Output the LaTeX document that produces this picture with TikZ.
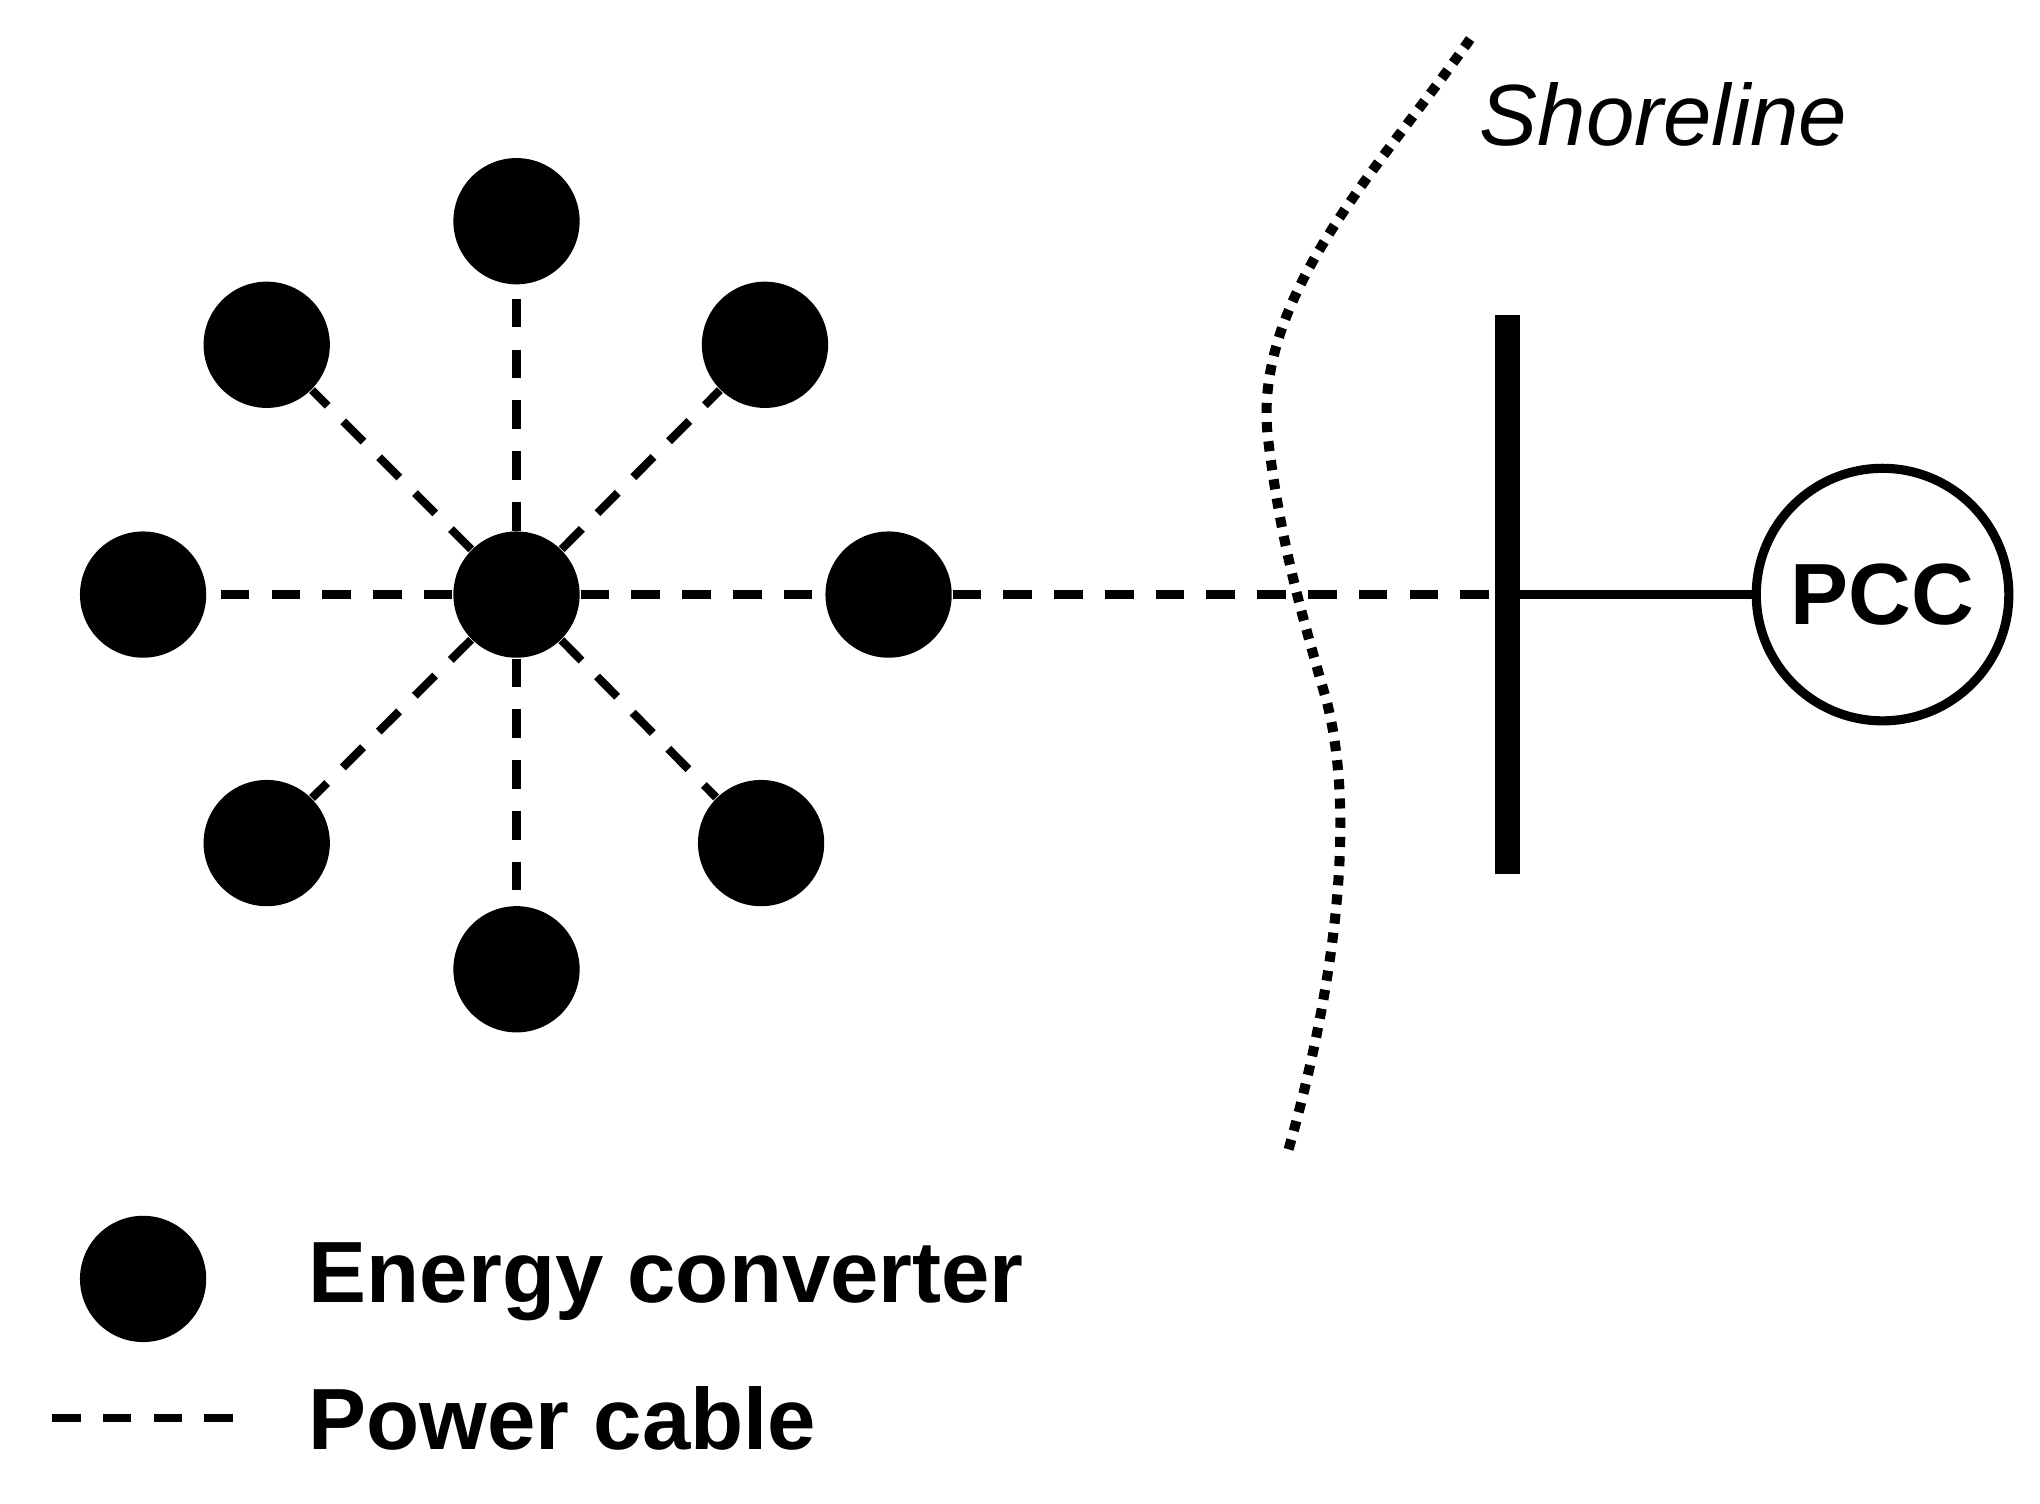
\documentclass[tikz,border=0pt]{standalone}
\usepackage{fontspec}
\setmainfont{Liberation Sans}
\begin{document}
\begin{tikzpicture}[x=0.01cm,y=-0.01cm,
  conv/.style={circle,fill=black,minimum size=0.97cm,inner sep=0pt},
  cable/.style={line width=1.8pt,dash pattern=on 0.22cm off 0.17cm},
  lbl/.style={font=\fontsize{19}{22}\selectfont\bfseries,anchor=west}]
\useasboundingbox (0,0) rectangle (1568,1156);
\node[conv] (c) at (397,457) {};
\node[conv] (n1) at (397,170) {};
\node[conv] (n2) at (397,745) {};
\node[conv] (n3) at (110,457) {};
\node[conv] (n4) at (683,457) {};
\node[conv] (n5) at (205,265) {};
\node[conv] (n6) at (588,265) {};
\node[conv] (n7) at (205,648) {};
\node[conv] (n8) at (585,648) {};
\coordinate (bt) at (1159,242);
\coordinate (bb) at (1159,672);
\coordinate (bm) at (1159,457);
\node[circle,draw,line width=2pt,minimum size=1.94cm,inner sep=0pt,font=\fontsize{19}{22}\selectfont\bfseries] (pcc) at (1447,457) {PCC};
\begin{scope}[on background layer/.try]
\foreach \n in {n1,n2,n3,n4,n5,n6,n7,n8} \draw[cable] (c) -- (\n);
\end{scope}
\draw[cable] (n4) -- (bm);
\draw[line width=5.5pt] (bt) -- (bb);
\draw[line width=2pt] (bm) -- (pcc);
\draw[line width=2.2pt,dotted] (1130,30) .. controls (1060,130) and (960,230) .. (975,340)
  .. controls (985,420) and (1000,470) .. (1020,540)
  .. controls (1045,640) and (1020,780) .. (990,885);
\node[font=\fontsize{19}{22}\selectfont\itshape,anchor=west] (sh) at (1125,88) {Shoreline};
\node[conv] (lc) at (110,983) {};
\node[lbl] (l1) at (225,985) {Energy converter};
\coordinate (d1) at (40,1090);
\coordinate (d2) at (182,1090);
\draw[cable] (d1) -- (d2);
\node[lbl] (l2) at (225,1090) {Power cable};
\end{tikzpicture}
\end{document}
